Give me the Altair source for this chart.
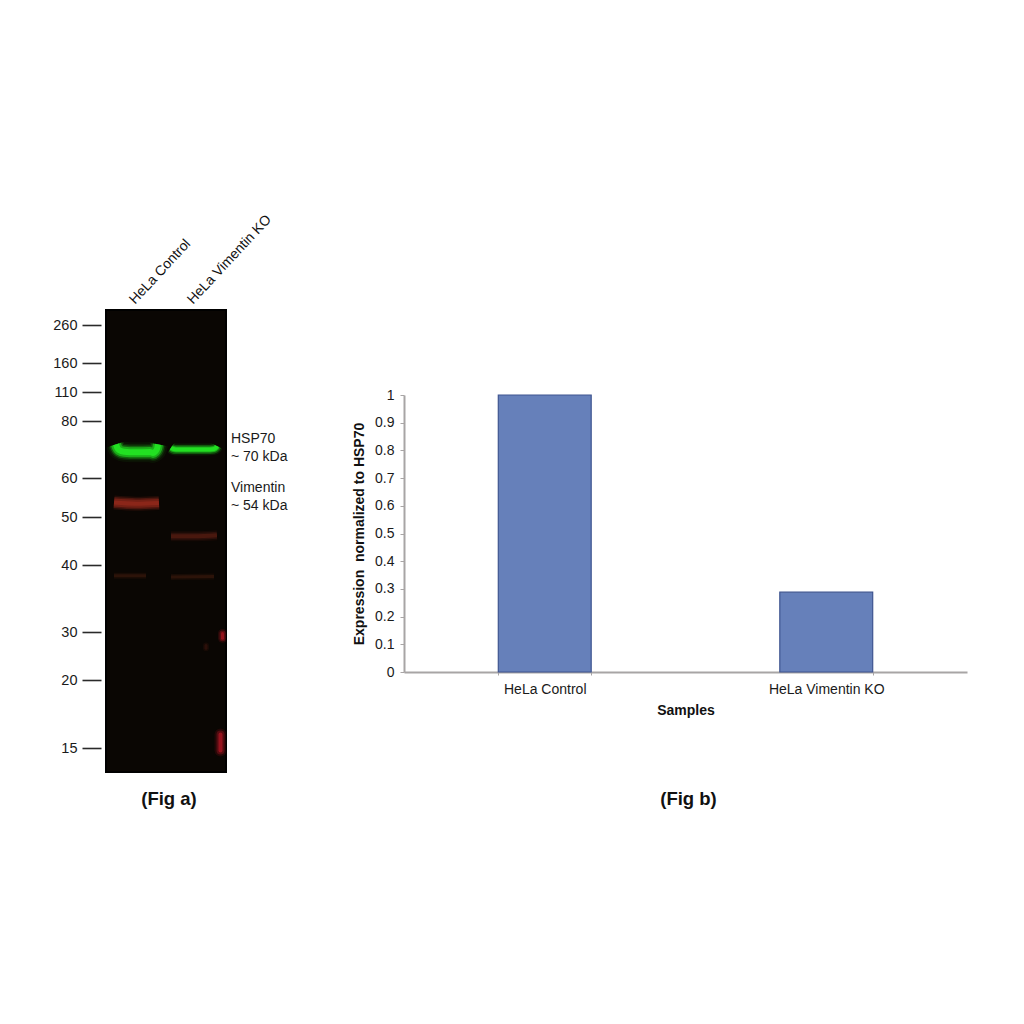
import altair as alt
import pandas as pd

FONT = "Liberation Sans"

# ---- Fig a data ----
kda_ticks = [260, 160, 110, 80, 60, 50, 40, 30, 20, 15]
lane_names = ["HeLa Control", "HeLa Vimentin KO"]
lane_centers = [26, 84]
note_texts = ["HSP70", "~ 70 kDa", "Vimentin", "~ 54 kDa"]
note_kda = [73.7, 67.4, 57.4, 52.8]

hsp_ctrl_x = [10, 11, 13, 18, 30, 44, 47, 49, 51, 52]
hsp_ctrl_k = [71.8, 70.8, 69.8, 69.2, 69.0, 69.1, 68.8, 69.2, 70.2, 71.8]
hsp_ko_x = [65, 67, 70, 85, 100, 108, 110, 111]
hsp_ko_k = [70.6, 70.2, 70.0, 70.0, 70.0, 70.2, 70.6, 71.2]
vim_ctrl_x = [8, 30, 53]
vim_ctrl_k = [53.7, 53.4, 53.6]
vim_ko_x = [65, 88, 111]
vim_ko_k = [46.0, 46.0, 46.2]
faint_ctrl_x = [8, 40]
faint_ctrl_k = [38.4, 38.4]
faint_ko_x = [65, 108]
faint_ko_k = [38.2, 38.3]
spot_a_x = [116.5, 116.5]
spot_a_k = [29.7, 28.7]
spot_b_x = [114.5, 114.5]
spot_b_k = [16.0, 14.7]
spot_c_x = [100, 100]
spot_c_k = [27.2, 26.6]

# ---- Fig b data ----
samples = ["HeLa Control", "HeLa Vimentin KO"]
expression = [1.0, 0.288]
y_ticks = [0, 0.1, 0.2, 0.3, 0.4, 0.5, 0.6, 0.7, 0.8, 0.9, 1]

blot_w, blot_h = 120, 462
x_scale = alt.Scale(domain=[0, 120], range=[0, blot_w])
y_scale = alt.Scale(
    domain=[300, 260, 160, 110, 80, 60, 50, 40, 30, 20, 15, 12],
    range=[0, 15, 53, 82, 111, 168, 207, 255, 322, 370, 438, 462],
)


def band(xs, ks, color, passes, cap="butt"):
    df = pd.DataFrame({"pos": xs, "kda": ks, "ord": list(range(len(xs)))})
    layers = []
    for width, opacity in passes:
        layers.append(
            alt.Chart(df)
            .mark_line(color=color, strokeWidth=width, opacity=opacity,
                       interpolate="monotone", strokeCap=cap, clip=True)
            .encode(
                x=alt.X("pos:Q", scale=x_scale, axis=None),
                y=alt.Y("kda:Q", scale=y_scale),
                order="ord:O",
            )
        )
    return layers


axis_base = (
    alt.Chart(pd.DataFrame({"kda": kda_ticks}))
    .mark_point(opacity=0)
    .encode(
        x=alt.value(0),
        y=alt.Y(
            "kda:Q",
            scale=y_scale,
            axis=alt.Axis(
                values=kda_ticks, title=None, domain=False, grid=False,
                offset=5, tickSize=19, tickWidth=1.6, tickColor="#2a2a2a",
                labelPadding=5, labelFont=FONT, labelFontSize=14.5,
                labelColor="#1a1a1a",
            ),
        ),
    )
)

lane_labels = (
    alt.Chart(pd.DataFrame({"pos": lane_centers, "name": lane_names}))
    .mark_text(angle=313, align="left", baseline="middle", font=FONT,
               fontSize=14, color="#111111", clip=False)
    .encode(x=alt.X("pos:Q", scale=x_scale, axis=None), y=alt.value(-8), text="name:N")
)

annot = (
    alt.Chart(pd.DataFrame({
        "pos": [125] * len(note_texts),
        "kda": note_kda,
        "t": note_texts,
    }))
    .mark_text(align="left", baseline="middle", font=FONT, fontSize=14,
               color="#1a1a1a", clip=False)
    .encode(x=alt.X("pos:Q", scale=x_scale, axis=None),
            y=alt.Y("kda:Q", scale=y_scale), text="t:N")
)

green = [(20, 0.06), (16, 0.12), (13, 0.3), (10, 0.6), (6, 1.0)]
green_ko = [(12, 0.10), (9, 0.3), (6, 0.6), (4, 1.0)]
red = [(14, 0.14), (11, 0.3), (8, 0.4), (4, 0.4)]
dim = [(10, 0.10), (7, 0.2), (4, 0.3)]
faint = [(6, 0.14), (3, 0.25)]
spot = [(9, 0.14), (6, 0.3), (3, 0.5)]
spot_wide = [(12, 0.12), (8, 0.28), (4, 0.5)]

layers = [axis_base]
layers += band(hsp_ctrl_x, hsp_ctrl_k, "#22e022", green)
layers += band(hsp_ko_x, hsp_ko_k, "#22e022", green_ko)
layers += band(vim_ctrl_x, vim_ctrl_k, "#b03020", red)
layers += band(vim_ko_x, vim_ko_k, "#8a2c1c", dim)
layers += band(faint_ctrl_x, faint_ctrl_k, "#6a2c16", faint)
layers += band(faint_ko_x, faint_ko_k, "#6a2c16", faint)
layers += band(spot_a_x, spot_a_k, "#d01a28", spot, cap="round")
layers += band(spot_b_x, spot_b_k, "#d81a2c", spot_wide, cap="round")
layers += band(spot_c_x, spot_c_k, "#6a2018", faint, cap="round")
layers += [lane_labels, annot]

fig_a = alt.layer(*layers).properties(
    width=blot_w,
    height=blot_h,
    view=alt.ViewConfig(fill="#0a0603", stroke="#000000", strokeWidth=2),
    title=alt.TitleParams(
        "(Fig a)", orient="bottom", anchor="middle", dx=3, offset=18,
        font=FONT, fontSize=18.5, fontWeight="bold", color="#111111",
    ),
)

# ---- Fig b ----
bars = (
    alt.Chart(pd.DataFrame({"sample": samples, "value": expression}))
    .mark_bar(color="#6680ba", stroke="#3f5590", strokeWidth=1.2)
    .encode(
        x=alt.X(
            "sample:N", sort=samples,
            scale=alt.Scale(paddingInner=0.67, paddingOuter=0.335),
            axis=alt.Axis(
                title="Samples", labelAngle=0, tickBand="extent", tickSize=3,
                domainColor="#a8a5a5", domainWidth=2, tickColor="#a8a5a5",
                labelFont=FONT, labelFontSize=14, labelColor="#1a1a1a",
                labelPadding=7, titleFont=FONT, titleFontSize=14,
                titleFontWeight="bold", titleColor="#111111", titlePadding=7,
                grid=False,
            ),
        ),
        y=alt.Y(
            "value:Q", scale=alt.Scale(domain=[0, 1], nice=False),
            axis=alt.Axis(
                values=y_ticks, format="~g",
                title="Expression \u00a0normalized to HSP70",
                tickSize=4, domainColor="#a8a5a5", domainWidth=2, tickColor="#a8a5a5",
                labelFont=FONT, labelFontSize=14, labelColor="#1a1a1a",
                labelPadding=6, titleFont=FONT, titleFontSize=14,
                titleFontWeight="bold", titleColor="#111111", titlePadding=8,
                grid=False,
            ),
        ),
    )
    .properties(
        width=563,
        height=277,
        view=alt.ViewConfig(stroke=None),
        title=alt.TitleParams(
            "(Fig b)", orient="bottom", anchor="middle", dx=3, offset=73,
            font=FONT, fontSize=18.5, fontWeight="bold", color="#111111",
        ),
    )
)

spacer = (
    alt.Chart(pd.DataFrame({"s": [0]}))
    .mark_point(opacity=0)
    .encode(x=alt.value(0), y=alt.value(0))
    .properties(width=563, height=72, view=alt.ViewConfig(stroke=None))
)

right = alt.vconcat(spacer, bars, spacing=6)

chart = (
    alt.hconcat(fig_a, right, spacing=63)
    .properties(padding={"left": 43, "top": 203, "right": 5, "bottom": 5}, background="white")
    .configure_view(stroke=None)
)

chart.save("out.html", embed_options={"renderer": "svg", "actions": False})
